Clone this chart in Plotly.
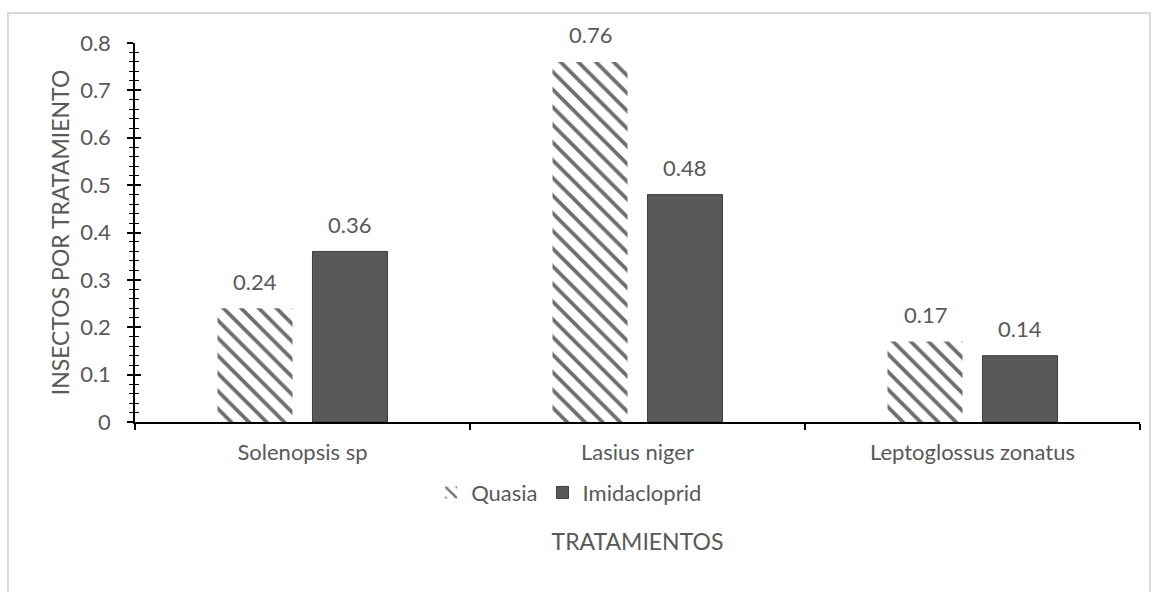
import plotly.graph_objects as go

# Data
categories = ["Solenopsis sp", "Lasius niger", "Leptoglossus zonatus"]
quasia = [0.24, 0.76, 0.17]
imidacloprid = [0.36, 0.48, 0.14]
series_names = ["Quasia", "Imidacloprid"]

FONT = "Lato"
TXT = "#595959"
BARGAP = 0.433
GROUPGAP = 0.21

fig = go.Figure()

fig.add_trace(go.Bar(
    name=series_names[0], x=categories, y=quasia,
    marker=dict(color="white",
                pattern=dict(shape="\\", fgcolor="#6e6e6e", bgcolor="white",
                             size=12.5, solidity=0.3, fillmode="replace"),
                line=dict(width=0)),
    hoverinfo="skip",
))
fig.add_trace(go.Bar(
    name=series_names[1], x=categories, y=imidacloprid,
    marker=dict(color="#595959", line=dict(color="#3f3f3f", width=1)),
    hoverinfo="skip",
))
# empty trace so the mirrored y axis (inside ticks) gets drawn
fig.add_trace(go.Scatter(x=categories, y=[None] * len(categories), yaxis="y2",
                         showlegend=False, hoverinfo="skip", mode="markers"))

# value labels above each bar (bar centre offset within a category slot)
slot = (1 - BARGAP) / 2
for vals, off in ((quasia, -0.5), (imidacloprid, 0.5)):
    for i, v in enumerate(vals):
        fig.add_annotation(x=i + off * slot, y=v, xref="x", yref="y",
                           text=f"{v:.2f}", showarrow=False, yshift=27,
                           font=dict(family=FONT, size=22, color=TXT))

# chart-area frame
fig.add_shape(type="rect", xref="paper", yref="paper",
              x0=-0.1264, x1=1.0099, y0=-0.5, y1=1.079,
              line=dict(color="#d9d9d9", width=2), fillcolor="rgba(0,0,0,0)",
              layer="below")

fig.update_layout(
    width=1158, height=592,
    margin=dict(l=135, r=18, t=43, b=170),
    paper_bgcolor="white", plot_bgcolor="white",
    barmode="group", bargap=BARGAP, bargroupgap=GROUPGAP,
    font=dict(family=FONT, color=TXT),
    showlegend=True,
    legend=dict(orientation="h", xref="paper", yref="paper",
                x=0.432, xanchor="center", y=-0.131, yanchor="top",
                font=dict(family=FONT, size=22, color=TXT),
                itemwidth=30, traceorder="normal"),
    xaxis=dict(
        type="category", showline=True, linecolor="black", linewidth=2,
        ticks="outside", tickson="boundaries", ticklen=6, tickwidth=2,
        tickcolor="black", showgrid=False, ticklabelstandoff=10,
        tickfont=dict(family=FONT, size=22, color=TXT),
        title=dict(text="TRATAMIENTOS", standoff=69,
                   font=dict(family=FONT, size=23, color=TXT)),
        range=[-0.5, 2.5],
    ),
    yaxis=dict(
        range=[0, 0.8], dtick=0.1, tick0=0, showline=True, linecolor="black",
        linewidth=1.5, ticks="outside", ticklen=6, tickwidth=1.5, tickcolor="black",
        showgrid=False, zeroline=False, ticklabelstandoff=12,
        minor=dict(dtick=0.02, ticks="outside", ticklen=4, tickwidth=1.2,
                   tickcolor="black", showgrid=False),
        tickfont=dict(family=FONT, size=22, color=TXT),
        title=dict(text="INSECTOS POR TRATAMIENTO", standoff=4,
                   font=dict(family=FONT, size=23, color=TXT)),
    ),
    yaxis2=dict(
        overlaying="y", anchor="x", side="left", range=[0, 0.8], dtick=0.1,
        tick0=0, showline=False, ticks="inside", ticklen=6, tickwidth=1.5,
        tickcolor="black", showticklabels=False, showgrid=False, zeroline=False,
        minor=dict(dtick=0.02, ticks="inside", ticklen=4, tickwidth=1.2,
                   tickcolor="black", showgrid=False),
    ),
)

fig.write_html("out.html")
